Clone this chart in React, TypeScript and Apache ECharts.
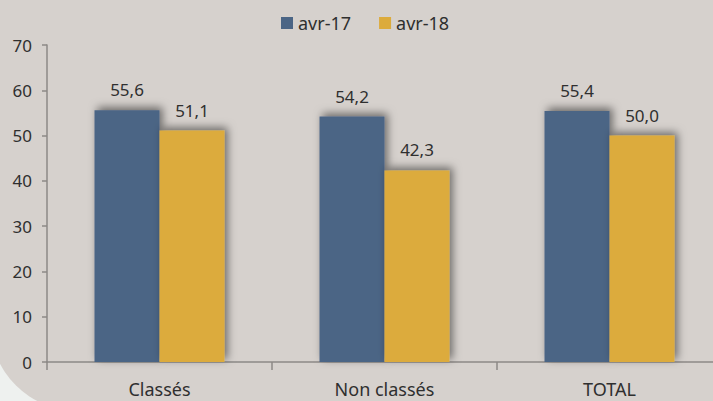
import React, { useEffect, useRef } from "react";
import * as echarts from "echarts";

const categories = ["Classés", "Non classés", "TOTAL"];
const seriesNames = ["avr-17", "avr-18"];
const values17 = [55.6, 54.2, 55.4];
const values18 = [51.1, 42.3, 50.0];
const colors = ["#4b6585", "#dcab3c"];

const FONT = "'Noto Sans', 'Open Sans', sans-serif";

export default function App() {
  const ref = useRef<HTMLDivElement>(null);
  useEffect(() => {
    document.body.style.margin = "0";
    document.body.style.overflow = "hidden";
    const chart = echarts.init(ref.current!, null, { renderer: "svg" });
    const fmt = (p: any) => Number(p.value).toFixed(1).replace(".", ",");
    const barStyle = (c: string) => ({
      color: c,
      shadowColor: "rgba(0,0,0,0.5)",
      shadowBlur: 8,
      shadowOffsetX: 3,
      shadowOffsetY: -3,
    });
    const label = {
      show: true,
      position: "top" as const,
      distance: 12,
      formatter: fmt,
      fontFamily: FONT,
      fontSize: 17,
      color: "#2f2f2f",
    };
    chart.setOption({
      animation: false,
      backgroundColor: "#eef1ef",
      textStyle: { fontFamily: FONT },
      graphic: [
        {
          type: "rect",
          z: -100,
          silent: true,
          shape: { x: -10, y: -20, width: 760, height: 431, r: [0, 0, 0, 88] },
          style: { fill: "#d6d1cd" },
        },
      ],
      legend: {
        top: 9,
        left: 276,
        itemWidth: 12,
        itemHeight: 12,
        itemGap: 28,
        icon: "rect",
        textStyle: { fontFamily: FONT, fontSize: 18, color: "#2f2f2f" },
        data: seriesNames,
      },
      grid: { left: 47, top: 45, bottom: 39, right: 0, containLabel: false },
      xAxis: {
        type: "category",
        data: categories,
        axisLine: { lineStyle: { color: "#8c8986", width: 1.5 } },
        axisTick: { show: true, length: 8, lineStyle: { color: "#8c8986", width: 1.5 } },
        axisLabel: { fontFamily: FONT, fontSize: 18, color: "#2f2f2f", margin: 18 },
      },
      yAxis: {
        type: "value",
        min: 0,
        max: 70,
        interval: 10,
        splitLine: { show: false },
        axisLine: { show: true, lineStyle: { color: "#8c8986", width: 1.5 } },
        axisTick: { show: true, length: 5, lineStyle: { color: "#8c8986", width: 1.5 } },
        axisLabel: { fontFamily: FONT, fontSize: 17, color: "#2f2f2f", margin: 15 },
      },
      series: [
        {
          name: seriesNames[0],
          type: "bar",
          data: values17,
          barWidth: 65,
          barGap: "0%",
          itemStyle: barStyle(colors[0]),
          label,
        },
        {
          name: seriesNames[1],
          type: "bar",
          data: values18,
          barWidth: 65,
          barGap: "0%",
          itemStyle: barStyle(colors[1]),
          label,
        },
      ],
    });
    return () => chart.dispose();
  }, []);
  return (
    <div
      ref={ref}
      style={{ position: "fixed", left: 0, top: 0, width: 722, height: 401 }}
    />
  );
}
